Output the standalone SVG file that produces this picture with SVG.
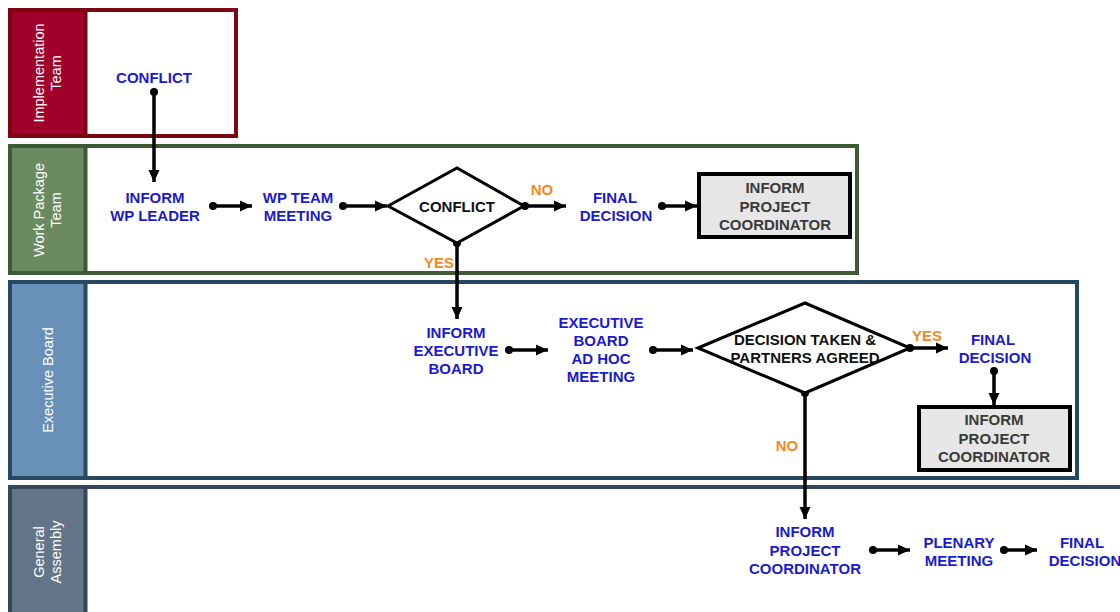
<svg xmlns="http://www.w3.org/2000/svg" width="1120" height="612" viewBox="0 0 1120 612">
<style>
.lbl{font-family:"Liberation Sans",Arial,sans-serif;font-weight:bold;font-size:15px;fill:#1a1ad2;text-anchor:middle}
.dec{font-family:"Liberation Sans",Arial,sans-serif;font-weight:bold;font-size:15px;fill:#111;text-anchor:middle}
.box{font-family:"Liberation Sans",Arial,sans-serif;font-weight:bold;font-size:15px;fill:#3a3a3a;text-anchor:middle}
.yn{font-family:"Liberation Sans",Arial,sans-serif;font-weight:bold;font-size:15px;fill:#f5871f;text-anchor:middle}
.hdr{font-family:"Liberation Sans",Arial,sans-serif;font-size:14.5px;fill:#ffffff;text-anchor:middle}
.lane{fill:#ffffff;stroke-width:4}
.conn line{stroke:#000;stroke-width:3.5}
.conn circle{fill:#000}
.shape{fill:#ffffff;stroke:#000;stroke-width:3}
.pbox{fill:#e6e6e6;stroke:#000;stroke-width:4}
</style>
<defs>
<marker id="ah" markerUnits="userSpaceOnUse" markerWidth="14" markerHeight="14" refX="12" refY="7" orient="auto">
<path d="M0,1.5 L12,7 L0,12.5 Z" fill="#000"/>
</marker>
</defs>
<rect width="1120" height="612" fill="#ffffff"/>

<g id="lane-implementation">
<rect class="lane" x="10" y="10" width="226" height="126" stroke="#7d0610"/>
<rect x="12" y="12" width="73" height="122" fill="#a0002a"/>
<line x1="85.5" y1="10" x2="85.5" y2="136" stroke="#7d0610" stroke-width="4"/>
<text class="hdr" transform="translate(47,73) rotate(-90)"><tspan x="0" y="-3">Implementation</tspan><tspan x="0" y="14">Team</tspan></text>
</g>

<g id="lane-workpackage">
<rect class="lane" x="10" y="146" width="847" height="127" stroke="#3d5a34"/>
<rect x="12" y="148" width="73" height="123" fill="#6b8a60"/>
<line x1="85.5" y1="146" x2="85.5" y2="273" stroke="#3d5a34" stroke-width="4"/>
<text class="hdr" transform="translate(47,210) rotate(-90)"><tspan x="0" y="-3">Work Package</tspan><tspan x="0" y="14">Team</tspan></text>
</g>

<g id="lane-executive">
<rect class="lane" x="10" y="282" width="1067" height="196" stroke="#274862"/>
<rect x="12" y="284" width="73" height="192" fill="#6890b8"/>
<line x1="85.5" y1="282" x2="85.5" y2="478" stroke="#274862" stroke-width="4"/>
<text class="hdr" transform="translate(48,380) rotate(-90)"><tspan x="0" y="5">Executive Board</tspan></text>
</g>

<g id="lane-general">
<rect class="lane" x="10" y="487" width="1130" height="140" stroke="#34475a"/>
<rect x="12" y="489" width="73" height="130" fill="#637588"/>
<line x1="85.5" y1="487" x2="85.5" y2="620" stroke="#34475a" stroke-width="4"/>
<text class="hdr" transform="translate(47,552) rotate(-90)"><tspan x="0" y="-3">General</tspan><tspan x="0" y="14">Assembly</tspan></text>
</g>

<g id="connectors" class="conn">
<line x1="154" y1="92" x2="154" y2="182" marker-end="url(#ah)"/><circle cx="154" cy="92" r="4"/>
<line x1="213" y1="206" x2="252" y2="206" marker-end="url(#ah)"/><circle cx="213" cy="206" r="4"/>
<line x1="343" y1="206" x2="387" y2="206" marker-end="url(#ah)"/><circle cx="343" cy="206" r="4"/>
<line x1="525" y1="206" x2="566" y2="206" marker-end="url(#ah)"/><circle cx="525" cy="206" r="4"/>
<line x1="662" y1="206" x2="697" y2="206" marker-end="url(#ah)"/><circle cx="662" cy="206" r="4"/>
<line x1="457" y1="243" x2="457" y2="319" marker-end="url(#ah)"/><circle cx="457" cy="243" r="4"/>
<line x1="509" y1="350" x2="548" y2="350" marker-end="url(#ah)"/><circle cx="509" cy="350" r="4"/>
<line x1="653" y1="350" x2="693" y2="350" marker-end="url(#ah)"/><circle cx="653" cy="350" r="4"/>
<line x1="910" y1="348" x2="948" y2="348" marker-end="url(#ah)"/><circle cx="910" cy="348" r="4"/>
<line x1="994" y1="371" x2="994" y2="405" marker-end="url(#ah)"/><circle cx="994" cy="371" r="4"/>
<line x1="805" y1="393" x2="805" y2="519" marker-end="url(#ah)"/><circle cx="805" cy="393" r="4"/>
<line x1="873" y1="550" x2="910" y2="550" marker-end="url(#ah)"/><circle cx="873" cy="550" r="4"/>
<line x1="1004" y1="550" x2="1037" y2="550" marker-end="url(#ah)"/><circle cx="1004" cy="550" r="4"/>
</g>

<g id="n-conflict-start"><text class="lbl" x="154" y="83">CONFLICT</text></g>
<g id="n-inform-wp"><text class="lbl" x="155" y="203">INFORM</text><text class="lbl" x="155" y="221">WP LEADER</text></g>
<g id="n-wp-meeting"><text class="lbl" x="298" y="203">WP TEAM</text><text class="lbl" x="298" y="221">MEETING</text></g>
<g id="n-conflict-decision">
<polygon class="shape" points="388,206 457,168 524,206 457,243"/>
<text class="dec" x="457" y="212">CONFLICT</text>
</g>
<g id="l-no1"><text class="yn" x="542" y="195">NO</text></g>
<g id="l-yes1"><text class="yn" x="439" y="268">YES</text></g>
<g id="n-final1"><text class="lbl" x="615" y="203">FINAL</text><text class="lbl" x="616" y="221">DECISION</text></g>
<g id="n-inform-pc1">
<rect class="pbox" x="699" y="174" width="151" height="63"/>
<text class="box" x="775" y="193">INFORM</text><text class="box" x="775" y="211.5">PROJECT</text><text class="box" x="775" y="230">COORDINATOR</text>
</g>

<g id="n-inform-eb"><text class="lbl" x="456" y="338">INFORM</text><text class="lbl" x="456" y="356">EXECUTIVE</text><text class="lbl" x="456" y="374">BOARD</text></g>
<g id="n-eb-meeting"><text class="lbl" x="601" y="328">EXECUTIVE</text><text class="lbl" x="601" y="346">BOARD</text><text class="lbl" x="601" y="364">AD HOC</text><text class="lbl" x="601" y="382">MEETING</text></g>
<g id="n-decision-taken">
<polygon class="shape" points="698,348 805,303 910,348 805,393"/>
<text class="dec" x="805" y="345">DECISION TAKEN &amp;</text>
<text class="dec" x="805" y="363">PARTNERS AGREED</text>
</g>
<g id="l-yes2"><text class="yn" x="927" y="341">YES</text></g>
<g id="l-no2"><text class="yn" x="787" y="451">NO</text></g>
<g id="n-final2"><text class="lbl" x="993" y="345">FINAL</text><text class="lbl" x="995" y="363">DECISION</text></g>
<g id="n-inform-pc2">
<rect class="pbox" x="919" y="407" width="151" height="63"/>
<text class="box" x="994" y="425">INFORM</text><text class="box" x="994" y="443.5">PROJECT</text><text class="box" x="994" y="462">COORDINATOR</text>
</g>

<g id="n-inform-pc3"><text class="lbl" x="805" y="537">INFORM</text><text class="lbl" x="805" y="555.5">PROJECT</text><text class="lbl" x="805" y="574">COORDINATOR</text></g>
<g id="n-plenary"><text class="lbl" x="959" y="548">PLENARY</text><text class="lbl" x="959" y="566">MEETING</text></g>
<g id="n-final3"><text class="lbl" x="1082" y="548">FINAL</text><text class="lbl" x="1085" y="566">DECISION</text></g>
</svg>
